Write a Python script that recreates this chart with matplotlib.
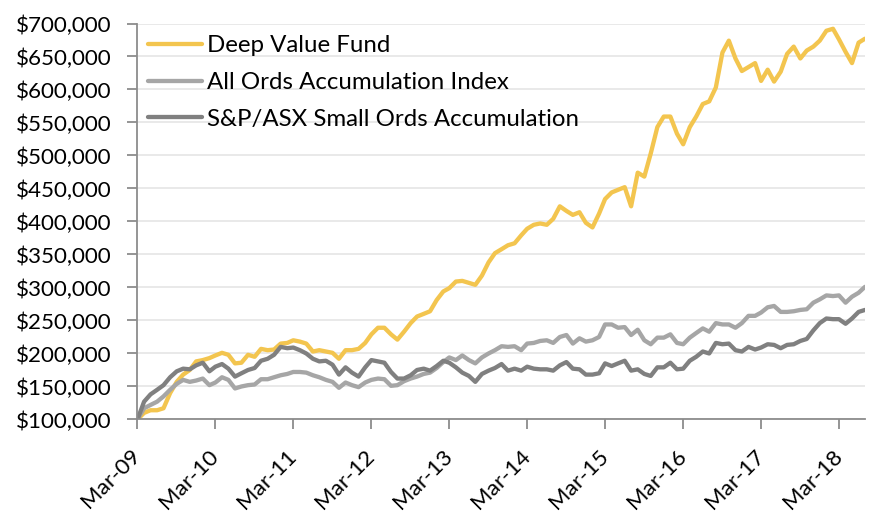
import matplotlib
import matplotlib.pyplot as plt
import pandas as pd
from matplotlib.ticker import FuncFormatter

matplotlib.use("Agg")

# monthly growth of $100,000, Mar-09 to Jul-18 (values in $000s)
months = pd.date_range("2009-03-01", periods=113, freq="MS")

deep_value = [
    100, 110, 114, 114, 117, 140, 157, 168, 175, 188, 190,
    193, 197, 201, 198, 185, 186, 198, 195, 207, 205,
    206, 215, 216, 220, 218, 215, 203, 205, 203, 201,
    192, 205, 205, 207, 216, 229, 239, 239, 229, 221,
    233, 246, 256, 260, 264, 281, 294, 299, 309, 310,
    307, 304, 318, 338, 352, 358, 364, 367, 379, 389,
    395, 397, 395, 404, 423, 416, 410, 414, 398, 391,
    412, 434, 444, 448, 452, 423, 474, 468, 503, 543,
    559, 559, 533, 517, 543, 559, 578, 582, 603, 656,
    674, 647, 628, 634, 640, 613, 630, 612, 627, 654,
    665, 647, 659, 665, 674, 689, 692, 676, 657, 640,
    671, 677,
]

all_ords = [
    100, 117, 122, 127, 135, 145, 154, 160, 157, 159, 162,
    152, 156, 164, 160, 147, 150, 152, 153, 161, 161,
    164, 167, 169, 172, 172, 171, 167, 164, 160, 157,
    148, 156, 152, 149, 156, 160, 162, 161, 151, 152,
    158, 162, 165, 169, 171, 178, 187, 194, 190, 197,
    190, 185, 194, 200, 205, 211, 210, 211, 205, 215,
    216, 219, 220, 216, 225, 228, 215, 223, 218, 220,
    225, 244, 244, 239, 240, 228, 236, 220, 214, 224,
    224, 229, 216, 214, 224, 231, 238, 233, 246, 244,
    244, 239, 246, 257, 257, 262, 270, 272, 263, 263,
    264, 266, 267, 277, 282, 288, 287, 288, 277, 286,
    292, 301,
]

small_ords = [
    100, 127, 138, 145, 152, 164, 173, 177, 176, 182, 186,
    173, 180, 184, 177, 165, 170, 175, 178, 189, 192,
    198, 210, 208, 209, 205, 200, 192, 188, 189, 183,
    168, 179, 171, 165, 179, 190, 188, 186, 172, 162,
    162, 167, 175, 177, 174, 181, 189, 186, 179, 171,
    166, 157, 169, 174, 178, 184, 174, 177, 174, 180,
    177, 176, 176, 174, 182, 187, 177, 176, 168, 168,
    170, 185, 181, 185, 189, 174, 176, 169, 166, 179,
    179, 186, 176, 177, 189, 195, 203, 200, 216, 214,
    215, 205, 203, 210, 206, 209, 214, 213, 208, 213,
    214, 219, 222, 235, 246, 253, 252, 252, 245, 253,
    263, 266,
]

series_names = ["Deep Value Fund", "All Ords Accumulation Index",
                "S&P/ASX Small Ords Accumulation"]
series_colors = ["#F3C54F", "#A6A6A6", "#808080"]

y_ticks = list(range(100000, 700001, 50000))
x_tick_dates = pd.date_range("2009-03-01", "2018-03-01", freq="12MS")

plt.rcParams["font.family"] = "Lato"

fig = plt.figure(figsize=(8.69, 5.12), dpi=100)
ax = fig.add_axes([0.1582, 0.1807, 0.8372, 0.7734])

for values, name, color in zip([deep_value, all_ords, small_ords], series_names, series_colors):
    ax.plot(months, [v * 1000 for v in values], color=color, linewidth=3.1,
            label=name, solid_capstyle="round", solid_joinstyle="round")

ax.set_xlim(months[0], months[-1])
ax.set_ylim(100000, 700000)
ax.set_yticks(y_ticks)
ax.yaxis.set_major_formatter(FuncFormatter(lambda v, p: "${:,.0f}".format(v)))
ax.set_xticks(x_tick_dates)
ax.set_xticklabels([d.strftime("%b-%y") for d in x_tick_dates], rotation=45,
                   ha="right", va="center", rotation_mode="anchor")

ax.grid(axis="y", color="#E7E7E7", linewidth=1.3)
ax.set_axisbelow(True)
for side in ["top", "right"]:
    ax.spines[side].set_visible(False)
for side in ["left", "bottom"]:
    ax.spines[side].set_color("#8C8C8C")
    ax.spines[side].set_linewidth(1.3)
ax.tick_params(axis="both", colors="#8C8C8C", width=1.3, length=7,
               labelcolor="black", labelsize=16.1)
ax.tick_params(axis="y", pad=12)
ax.tick_params(axis="x", pad=17)

ax.legend(loc="upper left", bbox_to_anchor=(0.0144, 0.97), frameon=False,
          fontsize=17.3, handlelength=2.25, handletextpad=0.22,
          labelspacing=0.65, borderpad=0, borderaxespad=0)

fig.savefig("out.png", dpi=100)
